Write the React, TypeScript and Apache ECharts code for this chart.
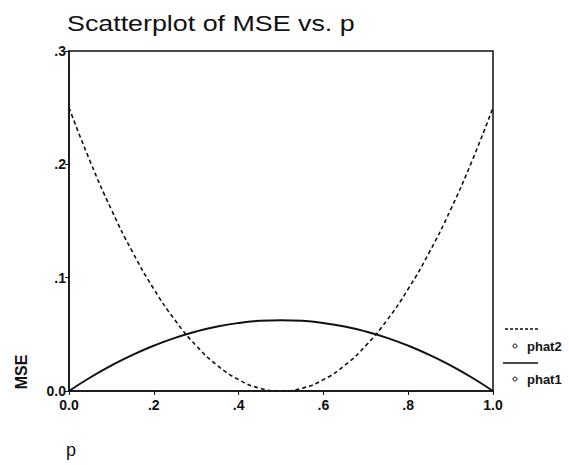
import React, { useEffect, useRef } from "react";
import * as echarts from "echarts";

const pValues = [0, 0.05, 0.1, 0.15, 0.2, 0.25, 0.3, 0.35, 0.4, 0.45, 0.5, 0.55, 0.6, 0.65, 0.7, 0.75, 0.8, 0.85, 0.9, 0.95, 1.0];
const phat2 = [0.25, 0.2025, 0.16, 0.1225, 0.09, 0.0625, 0.04, 0.0225, 0.01, 0.0025, 0, 0.0025, 0.01, 0.0225, 0.04, 0.0625, 0.09, 0.1225, 0.16, 0.2025, 0.25];
const phat1 = [0, 0.0119, 0.0225, 0.0319, 0.04, 0.0469, 0.0525, 0.0569, 0.06, 0.0619, 0.0625, 0.0619, 0.06, 0.0569, 0.0525, 0.0469, 0.04, 0.0319, 0.0225, 0.0119, 0];
const xTickLabels: Record<string, string> = { "0": "0.0", "0.2": ".2", "0.4": ".4", "0.6": ".6", "0.8": ".8", "1": "1.0" };
const yTickLabels: Record<string, string> = { "0": "0.0", "0.1": ".1", "0.2": ".2", "0.3": ".3" };
const seriesNames = ["phat2", "phat1"];
const titleText = "Scatterplot of MSE vs. p";

const FONT = "Liberation Sans, Arial, sans-serif";

export default function App() {
  const ref = useRef<HTMLDivElement>(null);
  useEffect(() => {
    if (!ref.current) return;
    const chart = echarts.init(ref.current, null, { renderer: "svg" });
    const gridLeft = 69, gridTop = 51, gridRight = 76, gridBottom = 74;
    const legX = 505;
    const legendText = { fontFamily: FONT, fontSize: 13, fontWeight: "bold", fill: "#111", verticalAlign: "middle" };
    chart.setOption({
      animation: false,
      backgroundColor: "#ffffff",
      grid: {
        left: gridLeft,
        right: gridRight,
        top: gridTop,
        bottom: gridBottom,
        show: true,
        borderColor: "#111",
        borderWidth: 1.5,
      },
      xAxis: {
        type: "value",
        min: 0,
        max: 1,
        interval: 0.2,
        axisLine: { show: true, onZero: false, lineStyle: { color: "#111", width: 1.5 } },
        axisTick: { show: true, inside: false, length: 4, lineStyle: { color: "#111" } },
        splitLine: { show: false },
        axisLabel: {
          color: "#111",
          fontFamily: FONT,
          fontWeight: "bold",
          fontSize: 14,
          margin: 7,
          formatter: (v: number) => xTickLabels[String(Math.round(v * 10) / 10)] ?? "",
        },
      },
      yAxis: {
        type: "value",
        min: 0,
        max: 0.3,
        interval: 0.1,
        axisLine: { show: true, onZero: false, lineStyle: { color: "#111", width: 1.5 } },
        axisTick: { show: true, inside: false, length: 4, lineStyle: { color: "#111" } },
        splitLine: { show: false },
        axisLabel: {
          color: "#111",
          fontFamily: FONT,
          fontWeight: "bold",
          fontSize: 14,
          margin: 3,
          formatter: (v: number) => yTickLabels[String(Math.round(v * 10) / 10)] ?? "",
        },
      },
      series: [
        {
          name: seriesNames[0],
          type: "line",
          smooth: true,
          showSymbol: false,
          data: pValues.map((p, i) => [p, phat2[i]]),
          lineStyle: { color: "#111", width: 1.6, type: [4, 3] },
        },
        {
          name: seriesNames[1],
          type: "line",
          smooth: true,
          showSymbol: false,
          data: pValues.map((p, i) => [p, phat1[i]]),
          lineStyle: { color: "#111", width: 2 },
        },
      ],
      graphic: [
        {
          type: "text",
          x: 67,
          y: 23,
          scaleX: 1.22,
          style: { text: titleText, fontFamily: FONT, fontSize: 22, fill: "#111", verticalAlign: "middle" },
        },
        {
          type: "line",
          shape: { x1: legX, y1: 329, x2: legX + 33, y2: 329 },
          style: { stroke: "#111", lineWidth: 1.3, lineDash: [3, 2] },
        },
        { type: "circle", shape: { cx: legX + 10, cy: 346, r: 2 }, style: { fill: "none", stroke: "#111", lineWidth: 1 } },
        { type: "text", x: legX + 22, y: 346, style: { ...legendText, text: seriesNames[0] } },
        {
          type: "line",
          shape: { x1: legX - 2, y1: 363, x2: legX + 33, y2: 363 },
          style: { stroke: "#111", lineWidth: 1.5 },
        },
        { type: "circle", shape: { cx: legX + 10, cy: 379, r: 2 }, style: { fill: "none", stroke: "#111", lineWidth: 1 } },
        { type: "text", x: legX + 22, y: 379, style: { ...legendText, text: seriesNames[1] } },
        {
          type: "text",
          x: 21,
          y: 372,
          rotation: Math.PI / 2,
          style: { text: "MSE", fontFamily: FONT, fontSize: 16, fontWeight: "bold", fill: "#111", align: "center", verticalAlign: "middle" },
        },
        {
          type: "text",
          x: 71,
          y: 450,
          style: { text: "p", fontFamily: FONT, fontSize: 18, fill: "#111", align: "center", verticalAlign: "middle" },
        },
      ],
    });
    return () => chart.dispose();
  }, []);
  return <div ref={ref} style={{ position: "fixed", left: 0, top: 0, width: 569, height: 465 }} />;
}
